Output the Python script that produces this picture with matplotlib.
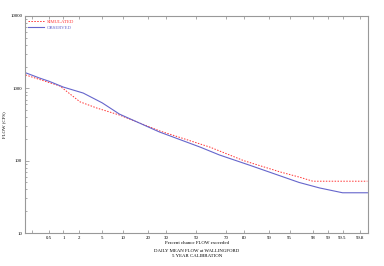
from statistics import NormalDist
import matplotlib
matplotlib.use("Agg")
import matplotlib.pyplot as plt
import numpy as np

nd = NormalDist()

# percent chance exceeded / flow (cfs)
obs_pct = [0.14, 0.3, 0.5, 1.0, 2.4, 5.0, 9.0, 26.0, 53.0, 66.0, 83.0, 96.5, 98.5, 99.5, 99.87]
obs_flow = [1640, 1390, 1250, 1040, 860, 630, 440, 250, 154, 120, 86, 50, 42, 36, 36]

sim_pct = [0.14, 0.85, 2.1, 4.1, 9.0, 26.4, 59.7, 80.0, 93.0, 96.6, 98.0, 99.87]
sim_flow = [1530, 1076, 650, 534, 427, 257, 154, 100, 70, 59, 52, 52]

tick_pct = [0.2, 0.5, 1, 2, 5, 10, 20, 30, 50, 70, 80, 90, 95, 98, 99, 99.5, 99.8]
tick_lbl = ["", "0.5", "1", "2", "5", "10", "20", "30", "50", "70", "80", "90", "95", "98", "99", "99.5", "99.8"]


def z(p):
    return [nd.inv_cdf(v / 100.0) for v in p]


plt.rcParams['font.family'] = ['Liberation Serif', 'DejaVu Serif']

fig = plt.figure(figsize=(3.84, 2.66), dpi=100)
ax = fig.add_axes([0.065, 0.124, 0.893, 0.816])

ax.plot(z(sim_pct), sim_flow, color="#ff3333", lw=0.7, ls=(0, (1.5, 1.5)), label="SIMULATED")
ax.plot(z(obs_pct), obs_flow, color="#6666cc", lw=0.8, label="OBSERVED")

ax.set_yscale("log")
ax.set_ylim(10, 10000)
ax.set_xlim(-3.0, 3.02)
ax.set_yticks([10, 100, 1000, 10000])
ax.set_yticklabels(["10", "100", "1000", "10000"])
ax.set_xticks(z(tick_pct))
ax.set_xticklabels(tick_lbl)

ax.tick_params(axis="both", which="both", direction="in", labelsize=3.5, pad=2,
               color="#888888", width=0.5)
ax.tick_params(axis="x", which="both", top=True, length=2)
ax.tick_params(axis="y", which="major", length=3)
ax.tick_params(axis="y", which="minor", length=1.5)
for s in ax.spines.values():
    s.set_color("#999999")
    s.set_linewidth(0.8)

ax.set_ylabel("FLOW (CFS)", fontsize=3.5, labelpad=3)
fig.text(0.513, 0.085, "Percent chance FLOW exceeded", ha="center", va="center", fontsize=3.5)
fig.text(0.513, 0.058, "DAILY MEAN FLOW at WALLINGFORD", ha="center", va="center", fontsize=3.5)
fig.text(0.513, 0.036, "5 YEAR CALIBRATION", ha="center", va="center", fontsize=3.5)

leg = ax.legend(loc="upper left", fontsize=3.5, frameon=False, handlelength=3.2,
                borderaxespad=0.3, labelspacing=0.3, handletextpad=0.5)
for t, c in zip(leg.get_texts(), ["#ff3333", "#6666cc"]):
    t.set_color(c)

fig.savefig("out.png", dpi=100)
